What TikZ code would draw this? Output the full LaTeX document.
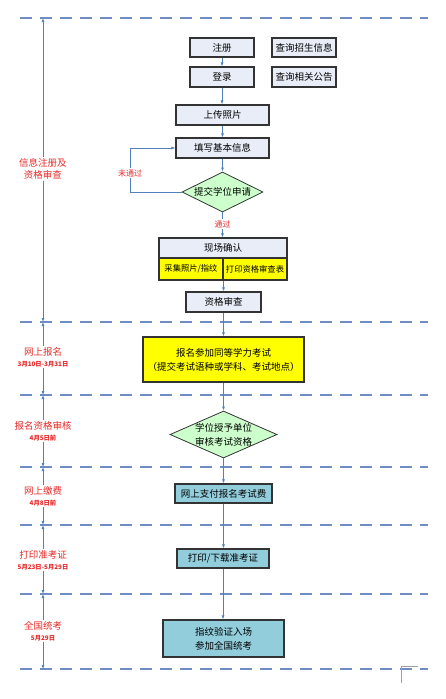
\documentclass[tikz,border=0pt]{standalone}
\usepackage{fontspec}
\setmainfont{Noto Sans CJK SC}
\usetikzlibrary{shapes.geometric,arrows.meta}
\definecolor{boxfill}{HTML}{E8EDF7}
\definecolor{linkblue}{HTML}{4F81BD}
\definecolor{dashblue}{HTML}{6F8DC4}
\definecolor{dgreen}{HTML}{CCFFCC}
\definecolor{cyanfill}{HTML}{92CDDC}
\definecolor{yelfill}{HTML}{FFFF00}
\definecolor{lred}{HTML}{E82828}
\definecolor{markgray}{HTML}{A0A0A0}
\newcommand{\boxfont}{\fontsize{9.5}{14}\selectfont}
\newcommand{\cellfont}{\fontsize{8.3}{10}\selectfont}
\newcommand{\datefont}{\fontsize{6.3}{8}\selectfont\bfseries}
\newcommand{\linkfont}{\fontsize{8}{10}\selectfont}
\begin{document}
\begin{tikzpicture}[x=1pt,y=-1pt,
  box/.style={draw=black!80,line width=1.1pt,rectangle,inner sep=0pt,font=\boxfont,align=center},
  plainbox/.style={box,fill=boxfill},
  yelbox/.style={box,fill=yelfill},
  cyanbox/.style={box,fill=cyanfill},
  dia/.style={diamond,draw=black!80,line width=0.8pt,fill=dgreen,inner sep=0pt},
  diatext/.style={font=\boxfont,align=center,inner sep=0pt},
  link/.style={draw=linkblue,line width=0.8pt},
  arr/.style={link,-{Latex[length=4pt,width=3pt]}},
  sep/.style={draw=dashblue,line width=2pt,dash pattern=on 12pt off 8pt},
  lab/.style={text=lred,font=\boxfont,align=center,inner sep=1pt},
  linklab/.style={text=lred,font=\linkfont,inner sep=1pt,fill=white}
]
\fill[white] (0,0) rectangle (445,699);
\useasboundingbox (0,0) rectangle (445,699);

% dashed separators
\foreach \yy/\n in {18/0,322/1,395/2,467/3,525/4,594/5,669/6}{
  \draw[sep] (20,\yy) -- (428,\yy);
  \coordinate (L\n) at (43,\yy);
}

% stage labels
\node[lab] (s1) at (43,169) {信息注册及\\[-2pt]资格审查};
\node[lab] (s2) at (43,357) {网上报名\\[-3pt]{\datefont 3月10日-3月31日}};
\node[lab] (s3) at (43,431) {报名资格审核\\[-3pt]{\datefont 4月5日前}};
\node[lab] (s4) at (43,496) {网上缴费\\[-3pt]{\datefont 4月8日前}};
\node[lab] (s5) at (43,560) {打印准考证\\[-3pt]{\datefont 5月23日-5月29日}};
\node[lab] (s6) at (43,631) {全国统考\\[-3pt]{\datefont 5月29日}};

\foreach \s/\a/\b in {1/0/1,2/1/2,3/2/3,4/3/4,5/4/5,6/5/6}{
  \draw[arr] (s\s.north) -- (L\a);
  \draw[arr] (s\s.south) -- (L\b);
}

% flow boxes
\node[plainbox,minimum width=64pt,minimum height=19pt] (zc) at (222,47.5) {注册};
\node[plainbox,minimum width=64pt,minimum height=19pt] (cx1) at (304,47.5) {查询招生信息};
\node[plainbox,minimum width=64pt,minimum height=20pt] (dl) at (222,77) {登录};
\node[plainbox,minimum width=64pt,minimum height=20pt] (cx2) at (304,77) {查询相关公告};
\node[plainbox,minimum width=93pt,minimum height=20pt] (up) at (222.5,115) {上传照片};
\node[plainbox,minimum width=93pt,minimum height=20pt] (tx) at (222.5,148) {填写基本信息};
\node[dia,minimum width=81pt,minimum height=40pt] (d1) at (222.5,192) {};
\node[diatext] (d1t) at (d1) {提交学位申请};
\node[linklab] (wtg) at (130,173) {未通过};
\node[linklab] (tg) at (222.5,224) {通过};
\node[plainbox,minimum width=128pt,minimum height=20pt] (xc) at (223,248) {现场确认};
\node[yelbox,font=\cellfont,minimum width=64pt,minimum height=22pt] (c1) at (191,269) {采集照片/指纹};
\node[yelbox,font=\cellfont,minimum width=64pt,minimum height=22pt] (c2) at (255,269) {打印资格审查表};
\node[plainbox,minimum width=75pt,minimum height=20pt] (zg) at (223.5,302) {资格审查};
\node[yelbox,minimum width=161pt,minimum height=45pt] (bm) at (223.5,359.5) {报名参加同等学力考试\\（提交考试语种或学科、考试地点）};
\node[dia,minimum width=107pt,minimum height=47pt] (d2) at (223.5,434.5) {};
\node[diatext] (d2t) at (d2) {学位授予单位\\审核考试资格};
\node[cyanbox,minimum width=97pt,minimum height=19pt] (pay) at (223.5,493.5) {网上支付报名考试费};
\node[cyanbox,minimum width=92pt,minimum height=19pt] (prt) at (223,558.5) {打印/下载准考证};
\node[cyanbox,minimum width=121pt,minimum height=37pt] (ex) at (223.5,638.5) {指纹验证入场\\参加全国统考};

% connectors
\draw[arr] (zc.south) -- (zc.south |- dl.north);
\draw[arr] (dl.south) -- (dl.south |- up.north);
\draw[arr] (up.south) -- (up.south |- tx.north);
\draw[arr] (tx.south) -- (tx.south |- d1.north);
\draw[link] (d1.west) -| (wtg.south);
\draw[arr] (wtg.north) |- (tx.west);
\draw[link] (d1.south) -- (tg.north);
\draw[arr] (tg.south) -- (tg.south |- xc.north);
\draw[arr] (c1.south east) -- (c1.south east |- zg.north);
\draw[arr] (zg.south) -- (zg.south |- bm.north);
\draw[arr] (bm.south) -- (bm.south |- d2.north);
\draw[arr] (d2.south) -- (d2.south |- pay.north);
\draw[arr] (pay.south) -- (pay.south |- prt.north);
\draw[arr] (prt.south) -- (prt.south |- ex.north);

% corner mark
\draw[markgray,line width=0.5pt] (418,666) -- (401,666) -- (401,683);
\end{tikzpicture}
\end{document}
